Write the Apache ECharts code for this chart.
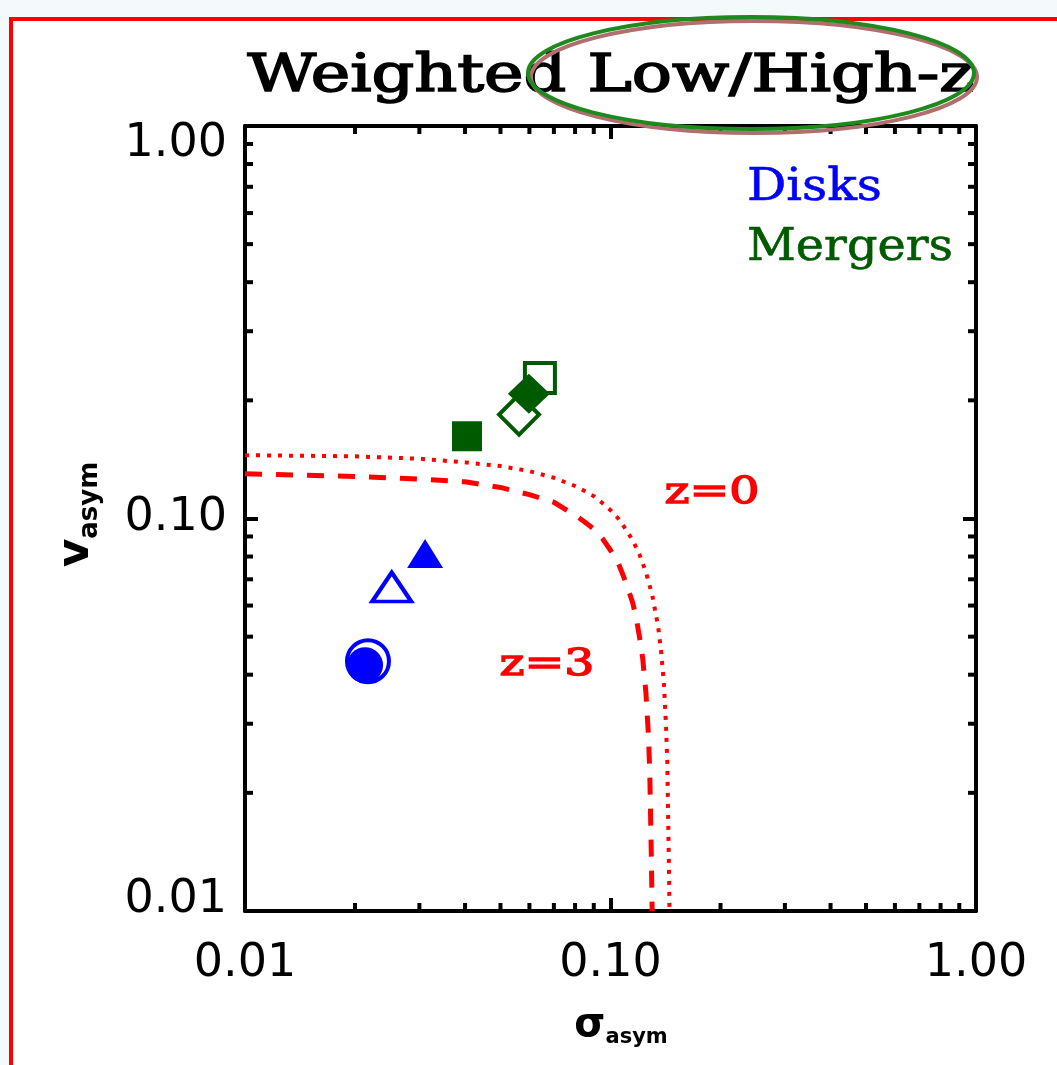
<!DOCTYPE html>
<html>
<head>
<meta charset="utf-8">
<title>Weighted Low/High-z</title>
<script src="https://cdn.jsdelivr.net/npm/echarts@6/dist/echarts.min.js"></script>
<style>
  html, body { margin: 0; padding: 0; background: #f4f9fb; overflow: hidden; }
  #frame { position: absolute; left: 9px; top: 17px; width: 2000px; height: 2000px;
           background: #ffffff; border-left: 4px solid #ff0000; border-top: 4px solid #ff0000; }
  #chart { position: absolute; left: 0; top: 0; width: 1057px; height: 1065px; }
</style>
</head>
<body>
<div id="frame"></div>
<div id="chart"></div>
<script>
// Axis ticks (log decades) and their printed labels
const tickValues = [0.01, 0.1, 1];
const tickLabels = ['0.01', '0.10', '1.00'];
// Minor tick positions within each decade
const minorTicks = [0.02, 0.03, 0.04, 0.05, 0.06, 0.07, 0.08, 0.09,
                    0.2, 0.3, 0.4, 0.5, 0.6, 0.7, 0.8, 0.9];

// [sigma_asym, v_asym] for each sample
const diskCircleOpen      = [0.0217, 0.0433];
const diskCircleFilled    = [0.0213, 0.0423];
const diskTriangleOpen    = [0.0252, 0.0669];
const diskTriangleFilled  = [0.0311, 0.0814];
const mergerSquareOpen    = [0.0641, 0.228];
const mergerDiamondOpen   = [0.0562, 0.184];
const mergerDiamondFilled = [0.0598, 0.208];
const mergerSquareFilled  = [0.0405, 0.162];

// Disk/merger dividing curves at z=0 (dotted) and z=3 (dashed)
const curveZ0 = [
  [0.010, 0.145], [0.020, 0.144], [0.030, 0.142], [0.040, 0.139], [0.050, 0.136],
  [0.060, 0.132], [0.070, 0.127], [0.080, 0.121], [0.085, 0.1175], [0.090, 0.114],
  [0.095, 0.1095], [0.100, 0.105], [0.105, 0.100], [0.110, 0.094], [0.115, 0.088],
  [0.120, 0.081], [0.125, 0.073], [0.130, 0.064], [0.135, 0.053], [0.1375, 0.046],
  [0.140, 0.038], [0.142, 0.029], [0.143, 0.024], [0.1445, 0.013], [0.145, 0.010]
];
const curveZ3 = [
  [0.010, 0.130], [0.020, 0.128], [0.030, 0.126], [0.040, 0.124], [0.050, 0.120],
  [0.060, 0.115], [0.070, 0.110], [0.080, 0.102], [0.085, 0.098], [0.090, 0.094],
  [0.095, 0.089], [0.100, 0.083], [0.105, 0.077], [0.110, 0.069], [0.115, 0.061],
  [0.1175, 0.056], [0.120, 0.050], [0.1225, 0.044], [0.125, 0.036], [0.127, 0.028],
  [0.128, 0.023], [0.1293, 0.014], [0.130, 0.010]
];

// Curve annotations: [sigma, v, text]
const curveLabels = [
  [0.1895, 0.1161, 'z=0'],
  [0.0670, 0.0423, 'z=3']
];

const BLUE = '#0000ff';
const GREEN = '#005a00';
const RED = '#ff0000';
const SERIF = 'DejaVu Serif';
const SANS = 'DejaVu Sans';

function fmtTick(v) {
  return tickLabels[Math.round(Math.log10(v)) + 2];
}

// Horizontal stretch needed for a string to span a given width
const measureCtx = document.createElement('canvas').getContext('2d');
function stretchFor(text, font, width) {
  measureCtx.font = font;
  return width / measureCtx.measureText(text).width;
}

const axisCommon = {
  type: 'log', logBase: 10, min: 0.01, max: 1,
  axisLine: { show: true, onZero: false, lineStyle: { color: '#000', width: 4 } },
  axisTick: { show: true, inside: true, length: 13, lineStyle: { color: '#000', width: 4 } },
  splitLine: { show: false },
  minorTick: { show: false }
};

const labelFont = { fontFamily: SANS, fontSize: 46, color: '#000' };

function scatter(point, symbol, size, filled, color) {
  return {
    type: 'scatter',
    symbol: symbol,
    symbolSize: size,
    data: [point],
    itemStyle: filled
      ? { color: color, opacity: 1 }
      : { color: 'rgba(0,0,0,0)', borderColor: color, borderWidth: 4, opacity: 1 },
    z: 5
  };
}

function tickSeries(isX) {
  return {
    type: 'custom',
    coordinateSystem: 'cartesian2d',
    silent: true,
    clip: false,
    data: minorTicks.map(t => isX ? [t, 0.01] : [0.01, t]),
    renderItem: function (params, api) {
      const t = isX ? api.value(0) : api.value(1);
      const a = isX ? api.coord([t, 0.01]) : api.coord([0.01, t]);
      const b = isX ? api.coord([t, 1]) : api.coord([1, t]);
      const len = 8;
      const st = { stroke: '#000', lineWidth: 4 };
      return {
        type: 'group',
        children: isX ? [
          { type: 'line', shape: { x1: a[0], y1: a[1], x2: a[0], y2: a[1] - len }, style: st },
          { type: 'line', shape: { x1: b[0], y1: b[1], x2: b[0], y2: b[1] + len }, style: st }
        ] : [
          { type: 'line', shape: { x1: a[0], y1: a[1], x2: a[0] + len, y2: a[1] }, style: st },
          { type: 'line', shape: { x1: b[0], y1: b[1], x2: b[0] - len, y2: b[1] }, style: st }
        ]
      };
    },
    z: 3
  };
}

const chart = echarts.init(document.getElementById('chart'), null, { renderer: 'canvas' });

const option = {
  animation: false,
  backgroundColor: 'transparent',
  grid: { left: 245, top: 126, width: 731, height: 785, show: false },
  xAxis: [
    Object.assign({}, axisCommon, {
      position: 'bottom',
      axisLabel: Object.assign({ margin: 30, formatter: fmtTick }, labelFont),
      name: '{s|σ}{sub|asym}',
      nameLocation: 'middle',
      nameGap: 92,
      nameTextStyle: {
        rich: {
          s: { fontFamily: SANS, fontSize: 40, fontWeight: 'bold', color: '#000', padding: [0, 0, 0, 21] },
          sub: { fontFamily: SANS, fontSize: 21, fontWeight: 'bold', color: '#000', padding: [24, 0, 0, 0] }
        }
      }
    }),
    Object.assign({}, axisCommon, {
      position: 'top',
      axisLabel: { show: false }
    })
  ],
  yAxis: [
    Object.assign({}, axisCommon, {
      position: 'left',
      axisLabel: Object.assign({
        margin: 18,
        formatter: function (v) {
          const i = Math.round(Math.log10(v)) + 2;
          return ['{b|', '{m|', '{t|'][i] + tickLabels[i] + '}';
        },
        rich: {
          t: Object.assign({ padding: [36, 0, 0, 0] }, labelFont),
          m: Object.assign({}, labelFont),
          b: Object.assign({ padding: [0, 0, 22, 0] }, labelFont)
        }
      }, labelFont),
      name: '{v|v}{sub|asym}',
      nameLocation: 'middle',
      nameGap: 142,
      nameTextStyle: {
        rich: {
          v: { fontFamily: SANS, fontSize: 44, fontWeight: 'bold', color: '#000', padding: [0, 0, 0, 8] },
          sub: { fontFamily: SANS, fontSize: 26, fontWeight: 'bold', color: '#000', padding: [26, 0, 0, 0] }
        }
      }
    }),
    Object.assign({}, axisCommon, {
      position: 'right',
      axisLabel: { show: false }
    })
  ],
  series: [
    tickSeries(true),
    tickSeries(false),
    {
      type: 'line', data: curveZ0, showSymbol: false, symbol: 'none', smooth: false,
      lineStyle: { color: RED, width: 4, type: [4, 7] }, z: 4
    },
    {
      type: 'line', data: curveZ3, showSymbol: false, symbol: 'none', smooth: false,
      lineStyle: { color: RED, width: 5, type: [17, 14] }, z: 4
    },
    scatter(diskCircleOpen, 'circle', 42, false, BLUE),
    scatter(diskCircleFilled, 'circle', 36, true, BLUE),
    scatter(diskTriangleOpen, 'triangle', [39, 29], false, BLUE),
    scatter(diskTriangleFilled, 'triangle', [36, 29], true, BLUE),
    scatter(mergerSquareOpen, 'rect', 30, false, GREEN),
    scatter(mergerDiamondOpen, 'diamond', 40, false, GREEN),
    scatter(mergerDiamondFilled, 'diamond', [42, 40], true, GREEN),
    scatter(mergerSquareFilled, 'rect', 30, true, GREEN)
  ]
};

chart.setOption(option);

// Text annotations: title, legend, curve labels (curve labels placed through the axes)
function stretchedText(text, x, y, size, color, align, width, outline) {
  const style = { text: text, x: 0, y: 0, align: align, verticalAlign: 'middle',
                  fontFamily: SERIF, fontSize: size, fill: color };
  if (outline) {
    style.stroke = color;
    style.lineWidth = outline;
  }
  return {
    type: 'text',
    x: x, y: y,
    scaleX: stretchFor(text, size + 'px "' + SERIF + '"', width),
    style: style,
    z: 10
  };
}

const graphics = [
  stretchedText('Weighted Low/High-z', 611, 77, 52, '#000', 'center', 727, 1.6),
  stretchedText('Disks', 747, 188, 45, BLUE, 'left', 135, 0.6),
  stretchedText('Mergers', 747, 248, 45, GREEN, 'left', 206, 0.6)
];
curveLabels.forEach(d => {
  const p = chart.convertToPixel({ xAxisIndex: 0, yAxisIndex: 0 }, [d[0], d[1]]);
  graphics.push(stretchedText(d[2], p[0], p[1], 38, RED, 'center', 95, 1.4));
});
graphics.push(
  {
    type: 'ellipse',
    shape: { cx: 754, cy: 77, rx: 223, ry: 56 },
    style: { fill: 'none', stroke: '#b06e6e', lineWidth: 4 },
    z: 11
  },
  {
    type: 'ellipse',
    shape: { cx: 751, cy: 73, rx: 223, ry: 56 },
    style: { fill: 'none', stroke: '#1e8a1e', lineWidth: 4 },
    z: 12
  }
);

chart.setOption({ graphic: graphics });
</script>
</body>
</html>
